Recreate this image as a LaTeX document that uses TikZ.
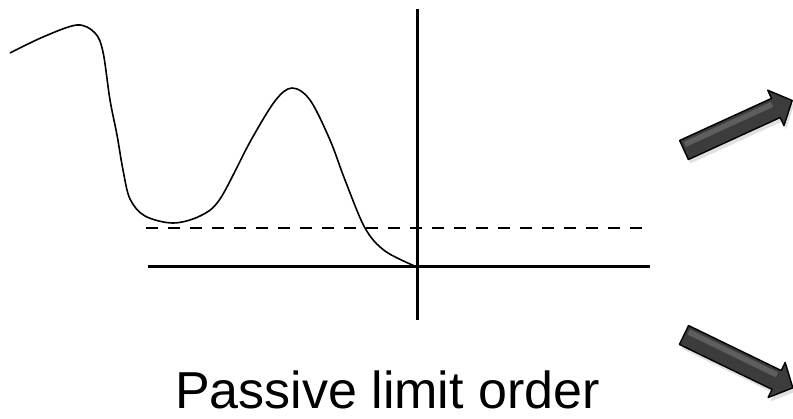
\documentclass[tikz,border=0pt]{standalone}
\usepackage{fontspec}
\setmainfont{Liberation Sans}
\usetikzlibrary{calc}
\definecolor{arrowfill}{HTML}{3C3C3C}
\definecolor{arrowhi}{HTML}{5E5E5E}
\tikzset{
  axisline/.style={line width=3pt, black},
  curveline/.style={line width=1.6pt, black, line join=round},
  dashline/.style={line width=1.4pt, black, dash pattern=on 12pt off 10pt},
  blockarrow/.style={fill=arrowfill, draw=black, line width=1.4pt, line join=round},
  arrowshadow/.style={fill=black, opacity=0.12},
  caption/.style={font=\fontsize{52}{60}\selectfont, inner sep=0pt, anchor=base}
}
\newcommand{\blockarrowpath}[1]{%
  (0,-10.5) -- (#1-18,-10.5) -- (#1-18,-19.5) -- (#1,0) -- (#1-18,19.5) -- (#1-18,10.5) -- (0,10.5) -- cycle}
\begin{document}
\begin{tikzpicture}[x=1pt,y=1pt]
\useasboundingbox (0,0) rectangle (793,-419);
% axes
\coordinate (vtop) at (417,-9);
\coordinate (vbot) at (417,-320);
\coordinate (hl) at (148,-267);
\coordinate (hr) at (650,-267);
\coordinate (dl) at (146,-228);
\coordinate (dr) at (648,-228);
\draw[dashline] (dl) -- (dr);
\draw[axisline] (hl) -- (hr);
\draw[axisline] (vtop) -- (vbot);
% curve
\draw[curveline] plot[smooth, tension=0.55] coordinates {
 (10,-53) (43,-37) (77,-25) (95,-33) (103,-52) (110,-100) (117,-135)
 (123,-170) (130,-199) (145,-216) (173,-223) (200,-216) (220,-199)
 (250,-142) (275,-101) (292,-88) (310,-100) (330,-140) (345,-180)
 (365,-228) (385,-251) (417,-267)};
% arrows
\coordinate (a1) at (684,-150);
\coordinate (a2) at (684,-335);
\begin{scope}[shift={($(a1)+(2,-4)$)}, rotate=24.6]
  \fill[arrowshadow] \blockarrowpath{119};
\end{scope}
\begin{scope}[shift={(a1)}, rotate=24.6]
  \path[blockarrow] \blockarrowpath{119};
  \fill[arrowhi] (3,2) -- (99,2) -- (99,7.5) -- (3,7.5) -- cycle;
\end{scope}
\begin{scope}[shift={($(a2)+(2,-4)$)}, rotate=-25.9]
  \fill[arrowshadow] \blockarrowpath{121};
\end{scope}
\begin{scope}[shift={(a2)}, rotate=-25.9]
  \path[blockarrow] \blockarrowpath{121};
  \fill[arrowhi] (3,2) -- (101,2) -- (101,7.5) -- (3,7.5) -- cycle;
\end{scope}
% caption
\node[caption] (cap) at (387.5,-409) {Passive limit order};
\end{tikzpicture}
\end{document}
